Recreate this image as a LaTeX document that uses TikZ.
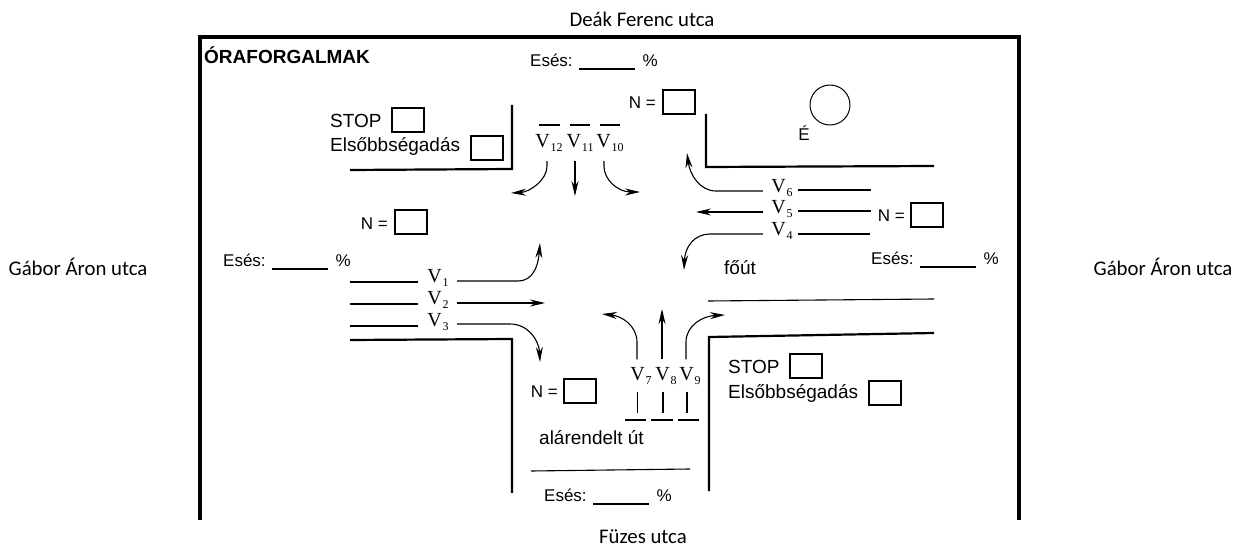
\documentclass[tikz,border=0pt]{standalone}
\usepackage{amsmath}
\usepackage{fontspec}
\setmainfont{Liberation Sans}
\newfontfamily\streetfont{Carlito}
\newfontfamily\lanefont{Liberation Serif}
\newcommand{\lanev}[1]{V\kern1pt\raisebox{-4.5pt}{\fontsize{12}{12}\selectfont #1}}
\usepackage{tikz}
\usetikzlibrary{arrows.meta}
\tikzset{
  street/.style={font=\streetfont\fontsize{20.8}{24}\selectfont, inner sep=0pt},
  form/.style={font=\fontsize{17}{20}\selectfont, inner sep=0pt},
  sign/.style={font=\fontsize{19}{22}\selectfont, inner sep=0pt, anchor=west},
  valuebox/.style={rectangle, draw, line width=1.2pt, minimum width=32pt, minimum height=24pt, inner sep=0pt},
  lanew/.style={font=\lanefont\fontsize{20}{22}\selectfont, inner sep=0pt, minimum width=34pt},
  laneh/.style={font=\lanefont\fontsize{20}{22}\selectfont, inner sep=0pt, minimum height=33pt},
  kerb/.style={line width=2.2pt},
  lane/.style={line width=1.1pt},
  flow/.style={line width=1.1pt, -{Stealth[length=15pt,width=7pt]}}
}
\begin{document}
\begin{tikzpicture}[x=1pt, y=-1pt]
  \useasboundingbox (0,0) rectangle (1235,548);
  % street names
  \node[street] (deak) at (642,19) {Deák Ferenc utca};
  \node[street] (gaborw) at (78,267) {Gábor Áron utca};
  \node[street] (gabore) at (1163,267) {Gábor Áron utca};
  \node[street] (fuzes) at (643,537) {Füzes utca};
  % frame
  \coordinate (fsw) at (200,520);
  \coordinate (fnw) at (200,37);
  \coordinate (fne) at (1019,37);
  \coordinate (fse) at (1019,520);
  \draw[line width=4pt] (fsw) -- (fnw) -- (fne) -- (fse);
  \node[font=\bfseries\fontsize{19}{22}\selectfont, inner sep=0pt, anchor=west] (title) at (204,55) {ÓRAFORGALMAK};
  % road edges
  \coordinate (nwa) at (512,105);
  \coordinate (nwb) at (512,169);
  \coordinate (nwc) at (350,170);
  \draw[kerb] (nwa) -- (nwb) -- (nwc);
  \coordinate (nea) at (706,114);
  \coordinate (neb) at (706,167);
  \coordinate (nec) at (934,166);
  \draw[kerb] (nea) -- (neb) -- (nec);
  \coordinate (swa) at (350,340);
  \coordinate (swb) at (512,339);
  \coordinate (swc) at (512,493);
  \draw[kerb] (swa) -- (swb) -- (swc);
  \coordinate (sea) at (709,491);
  \coordinate (seb) at (709,337);
  \coordinate (sec) at (934,333);
  \draw[kerb] (sea) -- (seb) -- (sec);
  \coordinate (mida) at (708,301);
  \coordinate (midb) at (934,299);
  \draw[lane] (mida) -- (midb);
  \coordinate (mina) at (531,471);
  \coordinate (minb) at (690,469);
  \draw[lane] (mina) -- (minb);
  % west lanes
  \node[lanew] (V1) at (438,278) {\lanev{1}};
  \node[lanew] (V2) at (438,300) {\lanev{2}};
  \node[lanew] (V3) at (438,322) {\lanev{3}};
  \coordinate (w1) at (350,282);
  \coordinate (w2) at (350,304);
  \coordinate (w3) at (350,326);
  \coordinate (a1) at (540,243);
  \coordinate (a2) at (545,303);
  \coordinate (a3) at (540,362);
  \draw[lane] (w1) -- ([xshift=-3pt]V1.west |- w1);
  \draw[lane] (w2) -- ([xshift=-3pt]V2.west |- w2);
  \draw[lane] (w3) -- ([xshift=-3pt]V3.west |- w3);
  \draw[flow] ([xshift=2pt,yshift=-3pt]V1.east) -- (518,281) .. controls (532,281) and (538,268) .. (a1);
  \draw[flow] ([xshift=2pt,yshift=-3pt]V2.east) -- (a2);
  \draw[flow] ([xshift=2pt,yshift=-2pt]V3.east) -- (510,324) .. controls (528,324) and (539,340) .. (a3);
  % east lanes
  \node[lanew] (V6) at (782,188) {\lanev{6}};
  \node[lanew] (V5) at (782,209) {\lanev{5}};
  \node[lanew] (V4) at (782,231) {\lanev{4}};
  \coordinate (e6) at (871,190);
  \coordinate (e5) at (871,211);
  \coordinate (e4) at (870,234);
  \coordinate (a6) at (687,153);
  \coordinate (a5) at (696,212);
  \coordinate (a4) at (684,270);
  \draw[lane] (e6) -- ([xshift=-1pt]V6.east |- e6);
  \draw[lane] (e5) -- ([xshift=-1pt]V5.east |- e5);
  \draw[lane] (e4) -- ([xshift=-1pt]V4.east |- e4);
  \draw[flow] ([xshift=-2pt,yshift=-3pt]V6.west) -- (716,191) .. controls (700,191) and (690,175) .. (a6);
  \draw[flow] ([xshift=-2pt,yshift=-3pt]V5.west) -- (a5);
  \draw[flow] ([xshift=-2pt,yshift=-3pt]V4.west) -- (710,234) .. controls (695,234) and (685,246) .. (a4);
  % north lanes
  \node[laneh] (V12) at (549,143) {\lanev{12}};
  \node[laneh] (V11) at (580,143) {\lanev{11}};
  \node[laneh] (V10) at (610,143) {\lanev{10}};
  \coordinate (n12a) at (539,125);
  \coordinate (n12b) at (560,125);
  \coordinate (n11a) at (570,125);
  \coordinate (n11b) at (590,125);
  \coordinate (n10a) at (600,125);
  \coordinate (n10b) at (620,125);
  \draw[lane] (n12a) -- (n12b);
  \draw[lane] (n11a) -- (n11b);
  \draw[lane] (n10a) -- (n10b);
  \coordinate (a12) at (511,193);
  \coordinate (a11) at (575,196);
  \coordinate (a10) at (640,192);
  \draw[flow] ([xshift=-2pt,yshift=-1.5pt]V12.south) -- ++(0,5) .. controls (547,180) and (530,192) .. (a12);
  \draw[flow] ([xshift=-5pt,yshift=-1.5pt]V11.south) -- (a11);
  \draw[flow] ([xshift=-6pt,yshift=-1.5pt]V10.south) -- ++(0,5) .. controls (604,180) and (618,192) .. (a10);
  % south lanes
  \node[laneh] (V7) at (641,376) {\lanev{7}};
  \node[laneh] (V8) at (666,376) {\lanev{8}};
  \node[laneh] (V9) at (690,376) {\lanev{9}};
  \coordinate (s7a) at (625,420);
  \coordinate (s7b) at (646,420);
  \coordinate (s8a) at (651,420);
  \coordinate (s8b) at (673,420);
  \coordinate (s9a) at (678,420);
  \coordinate (s9b) at (699,420);
  \draw[lane] (s7a) -- (s7b);
  \draw[lane] (s8a) -- (s8b);
  \draw[lane] (s9a) -- (s9b);
  \draw[lane] ([xshift=-3.5pt,yshift=1pt]V7.south) -- ++(0,21);
  \draw[lane] ([xshift=-3pt,yshift=1pt]V8.south) -- ++(0,21);
  \draw[lane] ([xshift=-3pt,yshift=1pt]V9.south) -- ++(0,21);
  \coordinate (a7) at (602,314);
  \coordinate (a8) at (662,309);
  \coordinate (a9) at (725,315);
  \draw[flow] ([xshift=-4pt]V7.north) -- (637,342) .. controls (637,326) and (622,316) .. (a7);
  \draw[flow] ([xshift=-4pt]V8.north) -- (a8);
  \draw[flow] ([xshift=-4pt]V9.north) -- (686,342) .. controls (686,326) and (702,316) .. (a9);
  % signs
  \node[sign] (stopn) at (330,121) {STOP};
  \node[valuebox] (stopnbox) at (408,120) {};
  \node[sign] (yieldn) at (330,146) {Elsőbbségadás};
  \node[valuebox] (yieldnbox) at (487,148) {};
  \node[sign] (stops) at (728,367) {STOP};
  \node[valuebox] (stopsbox) at (806,366) {};
  \node[sign] (yields) at (728,393) {Elsőbbségadás};
  \node[valuebox] (yieldsbox) at (885,393) {};
  % volumes
  \node[form, anchor=east] (Nw) at (388,224) {N =};
  \node[valuebox] (Nwbox) at (411,222) {};
  \node[form, anchor=east] (Nn) at (656,103) {N =};
  \node[valuebox] (Nnbox) at (679,102) {};
  \node[form, anchor=east] (Ne) at (905,216) {N =};
  \node[valuebox] (Nebox) at (927,215) {};
  \node[form, anchor=east] (Ns) at (558,392) {N =};
  \node[valuebox] (Nsbox) at (580,391) {};
  % grades
  \node[form, anchor=west] (esesn) at (530,62) {Esés: \rule[-3pt]{56pt}{1.5pt}\ \,\%};
  \node[form, anchor=west] (esesw) at (223,262) {Esés: \rule[-3pt]{56pt}{1.5pt}\ \,\%};
  \node[form, anchor=west] (esese) at (871,260) {Esés: \rule[-3pt]{56pt}{1.5pt}\ \,\%};
  \node[form, anchor=west] (esess) at (544,497) {Esés: \rule[-3pt]{56pt}{1.5pt}\ \,\%};
  % road names and north mark
  \node[sign] (major) at (724,268) {főút};
  \node[sign] (minor) at (539,438) {alárendelt út};
  \node[circle, draw, line width=1pt, minimum size=40pt, inner sep=0pt] (north) at (830,105) {};
  \node[form] (northlabel) at (804,133) {É};
\end{tikzpicture}
\end{document}
